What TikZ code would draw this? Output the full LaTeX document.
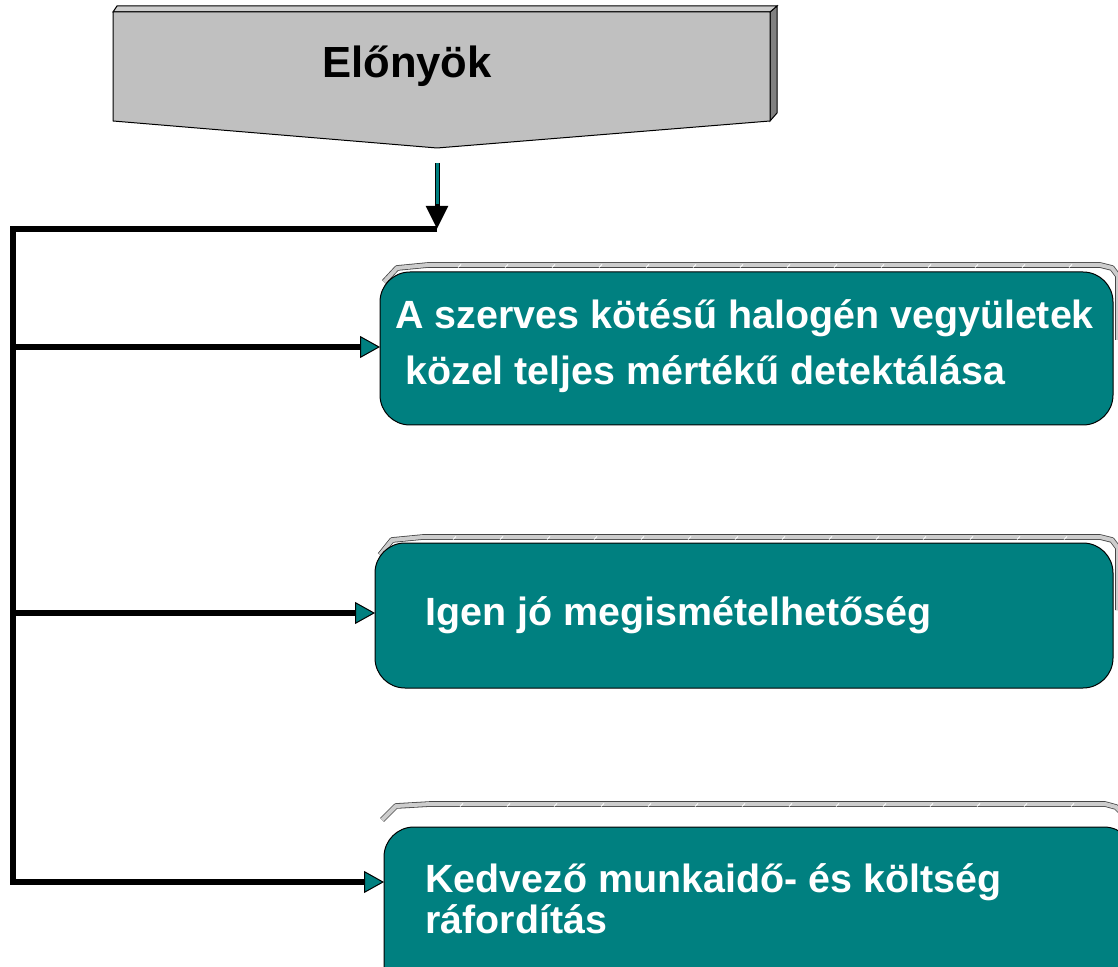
\documentclass[tikz,border=0pt]{standalone}
\usepackage{fontspec}
\setmainfont{Liberation Sans}
\usetikzlibrary{arrows.meta}
\definecolor{tealbox}{RGB}{0,128,128}
\definecolor{hdrgray}{RGB}{192,192,192}
\definecolor{sidegray}{RGB}{128,128,128}
\definecolor{stripgray}{RGB}{205,205,205}
\definecolor{edgegray}{RGB}{70,70,70}
\begin{document}
\begin{tikzpicture}[x=0.5pt,y=-0.5pt,
  hdrface/.style={fill=hdrgray, draw=black, line width=0.5pt, line join=round},
  hdrside/.style={fill=sidegray, draw=black, line width=0.5pt},
  hdrtop/.style={fill=stripgray, draw=black, line width=0.5pt},
  hdrtext/.style={font=\bfseries\fontsize{21.8pt}{26pt}\selectfont, anchor=base, inner sep=0},
  tbox/.style={draw=black, line width=0.5pt, fill=tealbox, rounded corners=15pt, inner sep=0, outer sep=0},
  strip/.style={draw=edgegray, line width=0.4pt, double=stripgray, double distance=2pt, line join=round},
  tick/.style={draw=white, line width=0.4pt},
  txt/.style={text=white, font=\bfseries\fontsize{19.7pt}{23pt}\selectfont, anchor=base west, inner sep=0},
  trunk/.style={draw=black, line width=3pt, line join=miter, line cap=butt},
  tip/.style={-{Triangle[length=10pt,width=11pt,fill=tealbox,line width=0.5pt]}}
]
\useasboundingbox (0,0) rectangle (1118,967);
\clip (0,0) rectangle (1118,967);

% header
\filldraw[hdrside] (770,12) -- (777,6) -- (777,113) -- (770,121) -- cycle;
\filldraw[hdrtop] (113,12) -- (117,6) -- (777,6) -- (770,12) -- cycle;
\filldraw[hdrface] (113,12) -- (770,12) -- (770,121) -- (437,148) -- (113,121) -- cycle;
\node[hdrtext] (hdr) at (407,78) {Előnyök};

% back strips
\draw[strip] (384,282) -- (397,268) -- (428,265) -- (1100,265) -- (1112,268) -- (1118,276) -- (1118,340);
\foreach \x in {461,508,...,1100} \draw[tick] (\x,264.5) -- (\x-3,267.5);
\draw[strip] (380,555) -- (392,540) -- (423,537) -- (1100,537) -- (1112,540) -- (1118,548) -- (1118,610);
\foreach \x in {456,503,...,1100} \draw[tick] (\x,536.5) -- (\x-3,539.5);
\draw[strip] (382,820) -- (396,806) -- (430,804) -- (1105,804) -- (1116,807) -- (1124,815) -- (1124,900);
\foreach \x in {463,510,...,1100} \draw[tick] (\x,803.5) -- (\x-3,806.5);

% boxes
\node[tbox, minimum width=366.5pt, minimum height=76.5pt] (b1) at (746.5,348.5) {};
\node[tbox, minimum width=369pt, minimum height=72.5pt] (b2) at (744,615.5) {};
\node[tbox, minimum width=375pt, minimum height=86.5pt] (b3) at (759,913.5) {};

% texts
\node[txt] (t1a) at (395,329) {A szerves kötésű halogén vegyületek};
\node[txt] (t1b) at (405,385) {közel teljes mértékű detektálása};
\node[txt] (t2a) at (425,625) {Igen jó megismételhetőség};
\node[txt] (t3a) at (425,892) {Kedvező munkaidő- és költség};
\node[txt] (t3b) at (425,933) {ráfordítás};

% connectors
\coordinate (a0) at (437,163);
\coordinate (j) at (437,229);
\coordinate (c0) at (13,229);
\coordinate (t1) at (13,347);
\coordinate (t2) at (13,613);
\coordinate (t3) at (13,882);
\draw[line width=2.5pt, -{Triangle[length=11.5pt,width=10.5pt]}] (a0) -- (j);
\draw[line width=1.5pt, tealbox] (a0) -- (437,204);
\draw[trunk, tip] (j) -- (c0) -- (t3) -- (t3 -| b3.west);
\draw[trunk, tip] (t1) -- (t1 -| b1.west);
\draw[trunk, tip] (t2) -- (t2 -| b2.west);
\end{tikzpicture}
\end{document}
